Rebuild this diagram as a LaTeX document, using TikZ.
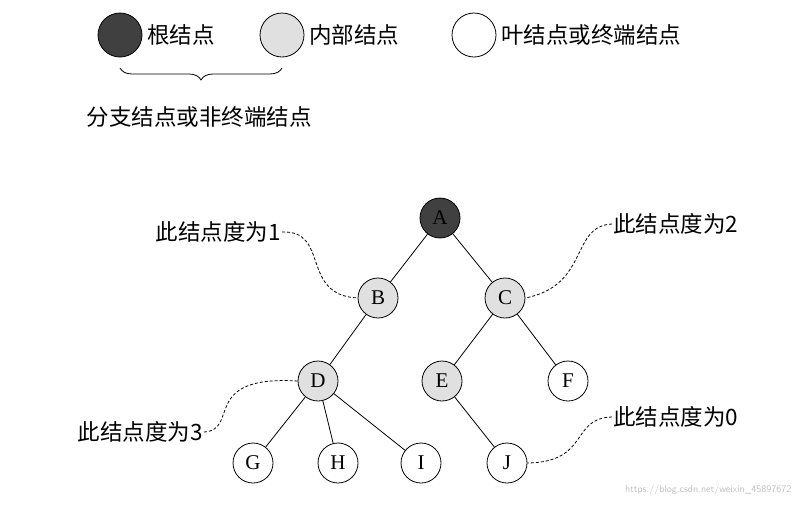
\documentclass[tikz,border=0pt]{standalone}
\usepackage{fontspec}
\setmainfont{Liberation Serif}
\newfontfamily\cjk{Noto Sans CJK SC}
\usetikzlibrary{decorations.pathreplacing}
\begin{document}
\begin{tikzpicture}[x=1pt,y=-1pt,
 nd/.style={circle,draw,thick,minimum size=40pt,inner sep=0pt,font=\fontsize{21}{23}\selectfont},
 root/.style={nd,fill=black!75},
 inner/.style={nd,fill=black!12},
 leaf/.style={nd,fill=white},
 lbl/.style={font=\cjk\fontsize{22.5}{24}\selectfont,inner sep=1pt},
 dsh/.style={densely dashed,thick}]
\useasboundingbox (0,0) rectangle (799,507);
% legend
\node[root,minimum size=44pt] (l1) at (120,35) {};
\node[lbl,anchor=west] (t1) at (146,35) {根结点};
\node[inner,minimum size=44pt] (l2) at (282,35) {};
\node[lbl,anchor=west] (t2) at (308,35) {内部结点};
\node[leaf,minimum size=44pt] (l3) at (474,35) {};
\node[lbl,anchor=west] (t3) at (500,35) {叶结点或终端结点};
\draw[thick,decorate,decoration={brace,mirror,amplitude=12pt}] (120,68) -- (282,68);
\node[lbl] (t4) at (199,117) {分支结点或非终端结点};
% tree
\node[root] (A) at (440,218) {A};
\node[inner] (B) at (378,298) {B};
\node[inner] (C) at (505,298) {C};
\node[inner] (D) at (318,381) {D};
\node[inner] (E) at (442,381) {E};
\node[leaf] (F) at (568,381) {F};
\node[leaf] (G) at (253,463) {G};
\node[leaf] (H) at (338,463) {H};
\node[leaf] (I) at (421,463) {I};
\node[leaf] (J) at (507,463) {J};
\draw[thick] (A)--(B) (A)--(C) (B)--(D) (C)--(E) (C)--(F) (D)--(G) (D)--(H) (D)--(I) (E)--(J);
% annotations
\node[lbl,anchor=east] (n1) at (282,232) {此结点度为1};
\node[lbl,anchor=west] (n2) at (612,224) {此结点度为2};
\node[lbl,anchor=east] (n3) at (204,432) {此结点度为3};
\node[lbl,anchor=west] (n0) at (612,417) {此结点度为0};
\draw[dsh] (n1.east) .. controls (330,230) and (300,295) .. (B.west);
\draw[dsh] (n2.west) .. controls (570,226) and (590,285) .. (C.east);
\draw[dsh] (n3.east) .. controls (240,430) and (200,375) .. (D.west);
\draw[dsh] (n0.west) .. controls (570,418) and (590,462) .. (J.east);
\node[font=\sffamily,text=black!25,anchor=east] (wm) at (795,490) {https://blog.csdn.net/weixin\_45897672};
\end{tikzpicture}
\end{document}
